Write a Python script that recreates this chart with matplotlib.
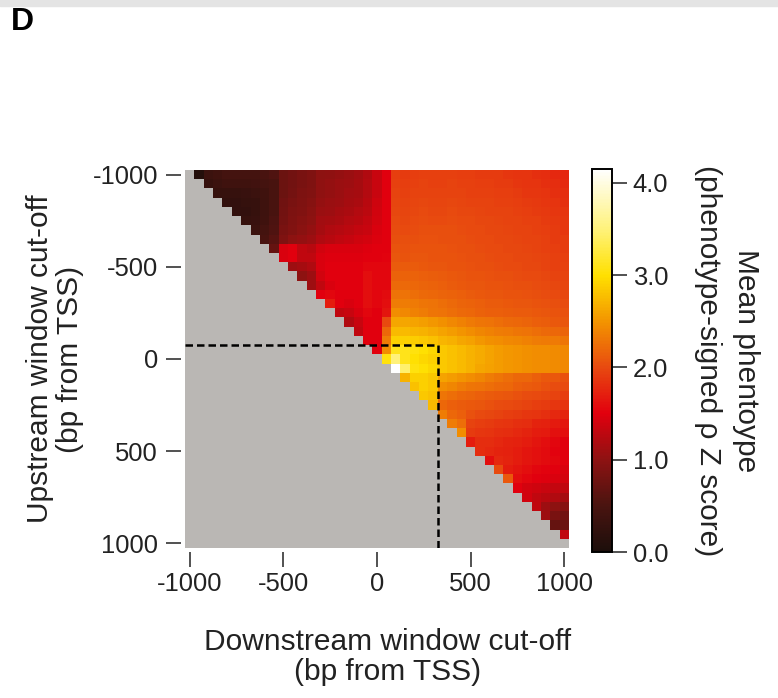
import numpy as np
import matplotlib
matplotlib.use("Agg")
import matplotlib.pyplot as plt
from matplotlib.colors import LinearSegmentedColormap
from matplotlib.patches import Rectangle

plt.rcParams['font.family'] = ['Liberation Sans', 'DejaVu Sans']
plt.rcParams['axes.unicode_minus'] = False

# ---------------- data ----------------
upstream = list(range(-1000, 1001, 50))      # rows (bp from TSS)
downstream = list(range(-1000, 1001, 50))    # columns (bp from TSS)
x_ticks = [-1000, -500, 0, 500, 1000]
y_ticks = [-1000, -500, 0, 500, 1000]
cbar_ticks = [0.0, 1.0, 2.0, 3.0, 4.0]
cbar_labels = ['0.0', '1.0', '2.0', '3.0', '4.0']
z_min, z_max = 0.0, 4.15
window_up = -75       # dashed box: upstream cut-off
window_down = 325     # dashed box: downstream cut-off

# each row: values for downstream > upstream (row ends at downstream = 1000)
z_u_m1000 = [0.1, 0.35, 0.4, 0.45, 0.45, 0.45, 0.45, 0.5, 0.55, 0.75, 0.8, 0.85, 0.9, 1.0, 1.02, 1.05, 1.08, 1.12, 1.2, 1.35, 1.5,
             1.92, 1.9, 1.92, 1.94, 1.93, 1.93, 1.94, 1.92, 1.92, 1.9, 1.9, 1.9, 1.88, 1.86, 1.85, 1.83, 1.8, 1.78, 1.76]
z_u_m950 = [0.3, 0.35, 0.4, 0.4, 0.4, 0.42, 0.45, 0.5, 0.75, 0.8, 0.85, 0.9, 1.02, 1.04, 1.07, 1.1, 1.14, 1.22, 1.35, 1.5,
            1.94, 1.92, 1.94, 1.95, 1.94, 1.94, 1.95, 1.94, 1.93, 1.92, 1.92, 1.9, 1.9, 1.88, 1.86, 1.85, 1.82, 1.8, 1.78]
z_u_m900 = [0.3, 0.3, 0.3, 0.32, 0.35, 0.4, 0.5, 0.75, 0.82, 0.88, 0.92, 1.02, 1.05, 1.08, 1.12, 1.15, 1.22, 1.35, 1.5,
            1.95, 1.94, 1.95, 1.96, 1.95, 1.95, 1.96, 1.95, 1.94, 1.94, 1.93, 1.92, 1.92, 1.9, 1.88, 1.87, 1.85, 1.82, 1.8]
z_u_m850 = [0.25, 0.25, 0.28, 0.3, 0.38, 0.5, 0.78, 0.85, 0.9, 0.95, 1.05, 1.08, 1.1, 1.14, 1.18, 1.25, 1.38, 1.5,
            1.97, 1.96, 1.97, 1.98, 1.97, 1.97, 1.98, 1.97, 1.96, 1.96, 1.95, 1.94, 1.93, 1.92, 1.9, 1.89, 1.87, 1.85, 1.83]
z_u_m800 = [0.25, 0.25, 0.3, 0.38, 0.5, 0.8, 0.88, 0.92, 0.98, 1.08, 1.1, 1.14, 1.18, 1.22, 1.28, 1.4, 1.5,
            1.98, 1.97, 1.98, 2.0, 1.99, 1.99, 2.0, 1.99, 1.98, 1.97, 1.96, 1.96, 1.95, 1.94, 1.92, 1.91, 1.89, 1.87, 1.85]
z_u_m750 = [0.3, 0.32, 0.4, 0.52, 0.82, 0.9, 0.95, 1.0, 1.12, 1.15, 1.18, 1.22, 1.26, 1.32, 1.42, 1.5,
            2.0, 1.99, 2.0, 2.02, 2.01, 2.01, 2.02, 2.0, 2.0, 1.99, 1.98, 1.97, 1.96, 1.95, 1.94, 1.93, 1.91, 1.89, 1.87]
z_u_m700 = [0.35, 0.45, 0.55, 0.85, 0.92, 0.98, 1.05, 1.15, 1.2, 1.24, 1.28, 1.32, 1.36, 1.45, 1.5,
            2.02, 2.01, 2.02, 2.04, 2.03, 2.03, 2.03, 2.02, 2.01, 2.0, 1.99, 1.98, 1.97, 1.96, 1.95, 1.94, 1.92, 1.9, 1.88]
z_u_m650 = [0.5, 0.6, 0.9, 1.0, 1.05, 1.1, 1.2, 1.25, 1.3, 1.34, 1.38, 1.42, 1.46, 1.5,
            2.04, 2.03, 2.04, 2.05, 2.05, 2.04, 2.04, 2.03, 2.02, 2.01, 2.0, 1.99, 1.98, 1.97, 1.96, 1.95, 1.93, 1.91, 1.9]
z_u_m600 = [0.7, 1.45, 1.5, 1.3, 1.25, 1.4, 1.45, 1.45, 1.45, 1.45, 1.48, 1.5, 1.5,
            2.06, 2.05, 2.06, 2.07, 2.06, 2.06, 2.05, 2.04, 2.03, 2.02, 2.01, 2.0, 1.99, 1.98, 1.97, 1.96, 1.94, 1.92, 1.91]
z_u_m550 = [1.45, 1.5, 1.3, 1.3, 1.45, 1.48, 1.48, 1.48, 1.48, 1.5, 1.5, 1.52,
            2.08, 2.07, 2.08, 2.08, 2.07, 2.07, 2.06, 2.05, 2.04, 2.03, 2.02, 2.01, 2.0, 1.99, 1.98, 1.97, 1.95, 1.93, 1.92]
z_u_m500 = [1.1, 1.15, 1.2, 1.45, 1.5, 1.5, 1.5, 1.5, 1.55, 1.55, 1.55,
            2.12, 2.12, 2.11, 2.1, 2.09, 2.08, 2.07, 2.06, 2.05, 2.04, 2.03, 2.02, 2.01, 2.0, 1.99, 1.98, 1.96, 1.94, 1.93]
z_u_m450 = [1.0, 1.1, 1.4, 1.5, 1.5, 1.5, 1.5, 1.6, 1.55, 1.55,
            2.17, 2.17, 2.16, 2.15, 2.13, 2.11, 2.1, 2.08, 2.07, 2.06, 2.05, 2.04, 2.03, 2.02, 2.01, 2.0, 1.98, 1.96, 1.95]
z_u_m400 = [1.1, 1.3, 1.45, 1.5, 1.5, 1.5, 1.6, 1.55, 1.55,
            2.22, 2.21, 2.2, 2.18, 2.16, 2.14, 2.12, 2.1, 2.09, 2.08, 2.07, 2.06, 2.05, 2.04, 2.03, 2.02, 2.0, 1.98, 1.97]
z_u_m350 = [1.5, 1.55, 1.5, 1.5, 1.5, 1.6, 1.55, 1.58,
            2.28, 2.27, 2.25, 2.22, 2.2, 2.18, 2.16, 2.14, 2.12, 2.1, 2.09, 2.08, 2.07, 2.06, 2.05, 2.04, 2.02, 2.0, 1.99]
z_u_m300 = [1.7, 1.5, 1.45, 1.5, 1.6, 1.55, 1.6,
            2.35, 2.34, 2.32, 2.3, 2.27, 2.24, 2.21, 2.18, 2.16, 2.14, 2.12, 2.11, 2.1, 2.09, 2.08, 2.07, 2.05, 2.03, 2.02]
z_u_m250 = [1.3, 1.35, 1.45, 1.55, 1.5, 1.65,
            2.45, 2.42, 2.38, 2.34, 2.3, 2.27, 2.24, 2.21, 2.19, 2.17, 2.15, 2.14, 2.13, 2.12, 2.11, 2.1, 2.08, 2.06, 2.05]
z_u_m200 = [1.2, 1.35, 1.5, 1.5, 2.0,
            2.62, 2.62, 2.6, 2.57, 2.52, 2.47, 2.42, 2.37, 2.33, 2.3, 2.27, 2.24, 2.22, 2.2, 2.18, 2.15, 2.13, 2.1, 2.08]
z_u_m150 = [1.3, 1.5, 1.5, 2.2,
            2.75, 2.75, 2.72, 2.7, 2.65, 2.6, 2.55, 2.5, 2.45, 2.4, 2.38, 2.35, 2.32, 2.3, 2.28, 2.25, 2.22, 2.2, 2.18]
z_u_m100 = [1.5, 1.5, 2.35,
            2.9, 2.9, 2.88, 2.85, 2.8, 2.72, 2.68, 2.62, 2.58, 2.52, 2.48, 2.45, 2.42, 2.4, 2.38, 2.35, 2.33, 2.32, 2.3]
z_u_m50 = [1.5, 2.45,
           3.1, 3.1, 3.05, 3.0, 2.95, 2.85, 2.8, 2.75, 2.7, 2.65, 2.6, 2.55, 2.52, 2.5, 2.48, 2.46, 2.45, 2.44, 2.42]
z_u_0 = [3.05,
         3.5, 3.1, 3.0, 2.95, 2.9, 2.85, 2.8, 2.75, 2.7, 2.65, 2.6, 2.55, 2.52, 2.5, 2.48, 2.46, 2.45, 2.44, 2.42]
z_u_50 = [4.15, 3.45, 3.05, 3.0, 2.95, 2.85, 2.8, 2.75, 2.7, 2.62, 2.58, 2.55, 2.52, 2.5, 2.48, 2.46, 2.45, 2.44, 2.42]
z_u_100 = [2.7, 2.9, 2.9, 2.85, 2.6, 2.55, 2.5, 2.45, 2.4, 2.35, 2.3, 2.25, 2.2, 2.2, 2.15, 2.1, 2.1, 2.05]
z_u_150 = [2.8, 2.9, 2.85, 2.45, 2.4, 2.35, 2.3, 2.28, 2.25, 2.22, 2.2, 2.15, 2.12, 2.1, 2.05, 2.02, 2.0]
z_u_200 = [2.85, 2.8, 2.3, 2.25, 2.2, 2.18, 2.15, 2.12, 2.1, 2.08, 2.05, 2.02, 2.0, 1.98, 1.95, 1.92]
z_u_250 = [2.75, 2.2, 2.15, 2.12, 2.1, 2.08, 2.05, 2.02, 2.0, 1.98, 1.95, 1.92, 1.9, 1.88, 1.85]
z_u_300 = [2.35, 2.2, 2.15, 2.05, 2.0, 1.98, 1.95, 1.92, 1.9, 1.88, 1.85, 1.82, 1.78, 1.75]
z_u_350 = [2.35, 2.25, 1.95, 1.92, 1.9, 1.88, 1.85, 1.82, 1.8, 1.75, 1.72, 1.68, 1.65]
z_u_400 = [2.45, 1.9, 1.88, 1.85, 1.82, 1.8, 1.78, 1.75, 1.7, 1.68, 1.62, 1.6]
z_u_450 = [1.7, 1.8, 1.8, 1.78, 1.75, 1.72, 1.7, 1.65, 1.6, 1.55, 1.5]
z_u_500 = [1.8, 1.78, 1.75, 1.72, 1.7, 1.65, 1.62, 1.58, 1.52, 1.5]
z_u_550 = [1.6, 1.78, 1.75, 1.7, 1.65, 1.62, 1.58, 1.55, 1.5]
z_u_600 = [2.0, 1.7, 1.65, 1.6, 1.55, 1.52, 1.5, 1.45]
z_u_650 = [2.1, 1.6, 1.55, 1.5, 1.48, 1.45, 1.42]
z_u_700 = [1.5, 1.42, 1.38, 1.35, 1.32, 1.3]
z_u_750 = [1.4, 1.3, 1.25, 1.2, 1.15]
z_u_800 = [1.3, 1.1, 1.0, 0.95]
z_u_850 = [1.1, 0.85, 0.8]
z_u_900 = [0.7, 0.75]
z_u_950 = [1.3]
z_u_1000 = []

rows = [z_u_m1000, z_u_m950, z_u_m900, z_u_m850, z_u_m800, z_u_m750, z_u_m700,
        z_u_m650, z_u_m600, z_u_m550, z_u_m500, z_u_m450, z_u_m400, z_u_m350,
        z_u_m300, z_u_m250, z_u_m200, z_u_m150, z_u_m100, z_u_m50, z_u_0,
        z_u_50, z_u_100, z_u_150, z_u_200, z_u_250, z_u_300, z_u_350, z_u_400,
        z_u_450, z_u_500, z_u_550, z_u_600, z_u_650, z_u_700, z_u_750, z_u_800,
        z_u_850, z_u_900, z_u_950, z_u_1000]

n = len(downstream)
Z = np.full((len(upstream), n), np.nan)
for i, r in enumerate(rows):
    if len(r):
        Z[i, n - len(r):] = r
Zm = np.ma.masked_invalid(Z)

# ---------------- colormap ----------------
anchors = [(0.0, '#1c0e0b'), (0.5, '#4a1410'), (1.0, '#8e1212'), (1.5, '#e2000e'),
           (2.0, '#e84a10'), (2.5, '#f39400'), (3.0, '#ffe000'), (3.5, '#fff27a'),
           (4.15, '#ffffff')]
cmap = LinearSegmentedColormap.from_list(
    'phen', [((v - z_min) / (z_max - z_min), c) for v, c in anchors])
cmap.set_bad('#bab7b4')

# ---------------- figure ----------------
W, H = 778, 698
fig = plt.figure(figsize=(W / 100, H / 100), dpi=100)
fig.patches.append(Rectangle((0, 1 - 6 / H), 1, 6 / H, transform=fig.transFigure,
                             color='#e4e4e4', zorder=0))

ax = fig.add_axes([185 / W, 1 - 548 / H, 384 / W, 378 / H])
step = downstream[1] - downstream[0]
ext = [downstream[0] - step / 2, downstream[-1] + step / 2,
       upstream[-1] + step / 2, upstream[0] - step / 2]
im = ax.imshow(Zm, cmap=cmap, vmin=z_min, vmax=z_max, extent=ext,
               aspect='auto', interpolation='nearest')

ax.plot([ext[0], window_down], [window_up, window_up], color='black',
        lw=1.8, dashes=(3.0, 1.6), solid_capstyle='butt')
ax.plot([window_down, window_down], [window_up, ext[2]], color='black',
        lw=1.8, dashes=(3.0, 1.6))
ax.set_xlim(ext[0], ext[1])
ax.set_ylim(ext[2], ext[3])

for s in ax.spines.values():
    s.set_color('none')
ax.spines['left'].set_position(('outward', 3))
ax.spines['bottom'].set_position(('outward', 3))
ax.set_xticks(x_ticks)
ax.set_yticks(y_ticks)
ax.set_xticklabels([str(v) for v in x_ticks])
ax.set_yticklabels([str(v) for v in y_ticks])
ax.tick_params(axis='both', length=10.5, width=1.1, labelsize=18.4,
               direction='out', color='#222222', labelcolor='#222222')
ax.tick_params(axis='x', pad=4)
ax.tick_params(axis='y', pad=6)

cax = fig.add_axes([592 / W, 1 - 552 / H, 20 / W, 383 / H])
cb = fig.colorbar(im, cax=cax, ticks=cbar_ticks)
cb.set_ticklabels(cbar_labels)
cb.outline.set_linewidth(1.4)
cax.tick_params(length=11, width=1.1, labelsize=18.4, pad=4,
                color='#222222', labelcolor='#222222')

fig.text(727 / W, 1 - 361 / H, 'Mean phentoype\n(phenotype-signed ρ Z score)',
         rotation=270, ha='center', va='center', multialignment='center',
         fontsize=21.5, linespacing=1.45, color='#222222')
fig.text(55 / W, 1 - 359 / H, 'Upstream window cut-off\n(bp from TSS)',
         rotation=90, ha='center', va='center', multialignment='center',
         fontsize=21.5, linespacing=1.12, color='#222222')
fig.text(388 / W, 1 - 657 / H, 'Downstream window cut-off\n(bp from TSS)',
         ha='center', va='center', multialignment='center',
         fontsize=21.5, linespacing=1.12, color='#222222')
fig.text(11 / W, 1 - 30 / H, 'D', fontsize=23, fontweight='bold',
         va='baseline', ha='left', color='black')

fig.savefig('out.png', dpi=100)
